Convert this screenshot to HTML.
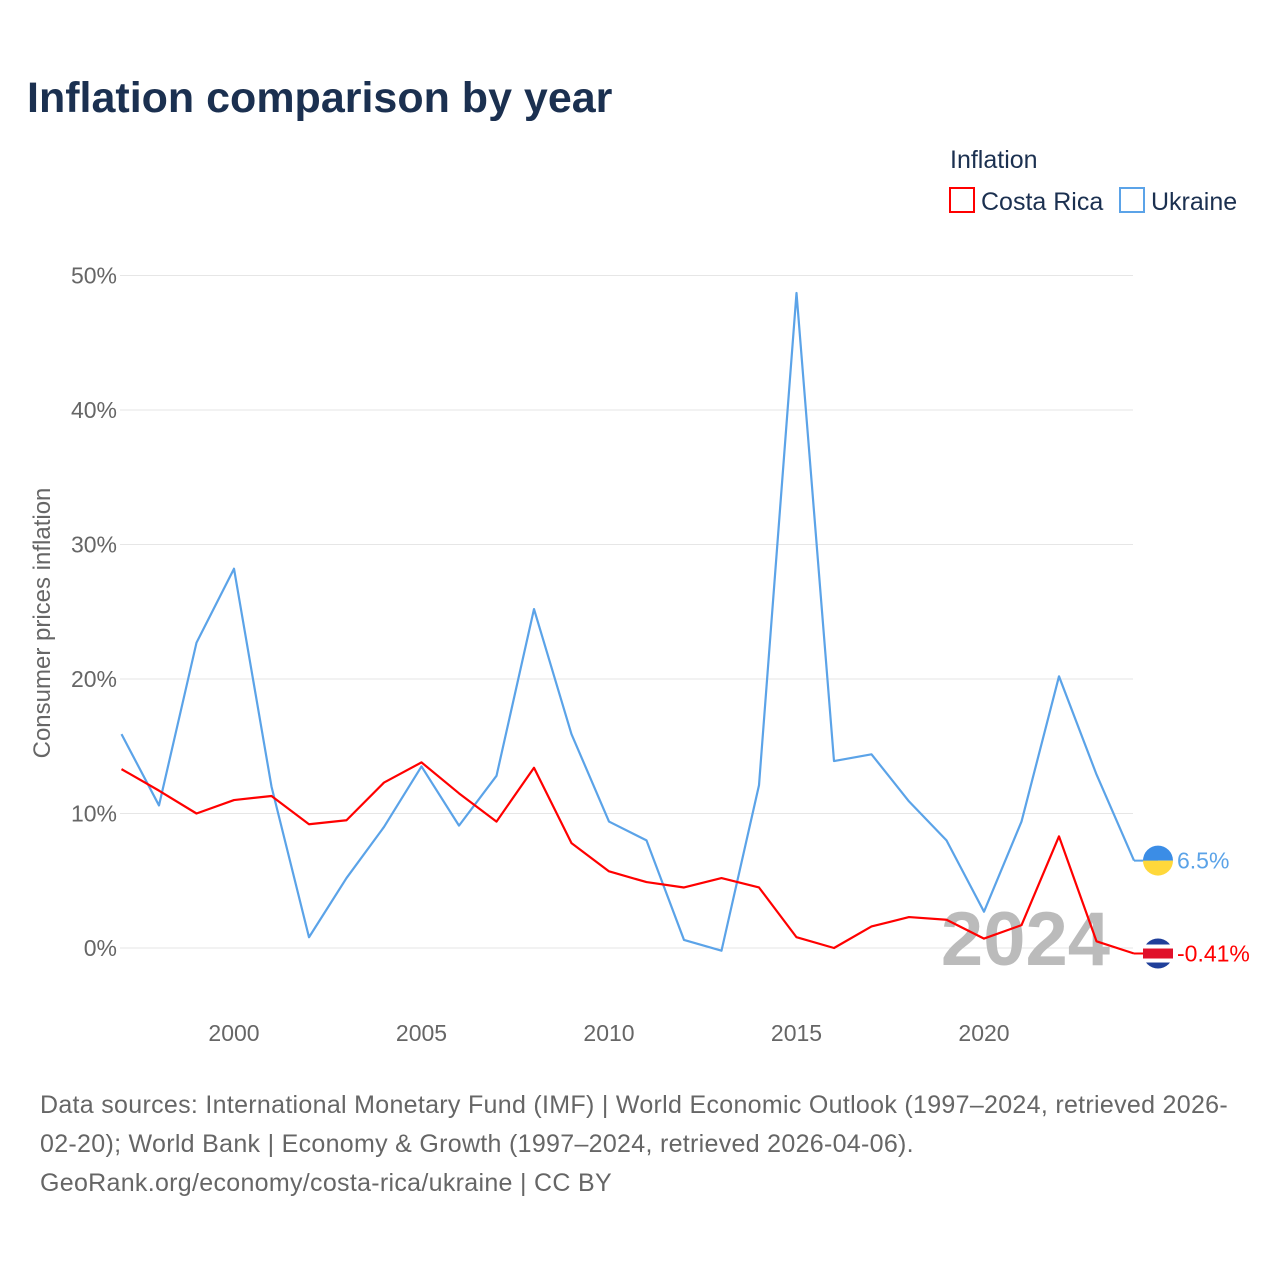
<!DOCTYPE html>
<html><head><meta charset="utf-8"><style>
body{margin:0;background:#fff;font-family:"Liberation Sans",sans-serif;}
svg text{font-family:"Liberation Sans",sans-serif;}
</style></head><body>
<svg id="chart" width="1280" height="1280" xmlns="http://www.w3.org/2000/svg">
<rect width="1280" height="1280" fill="#fff"/>
<text x="27" y="112" font-size="43" font-weight="bold" fill="#1b3050">Inflation comparison by year</text>
<text x="950" y="168" font-size="25" fill="#1b3050">Inflation</text>
<g><rect x="950" y="188" width="24" height="24" fill="none" stroke="#ff0000" stroke-width="2"/><text x="981" y="210" font-size="25" fill="#1b3050">Costa Rica</text></g>
<g><rect x="1120" y="188" width="24" height="24" fill="none" stroke="#5ba3e8" stroke-width="2"/><text x="1151" y="210" font-size="25" fill="#1b3050">Ukraine</text></g>
<text transform="translate(50,623) rotate(-90)" text-anchor="middle" font-size="24" fill="#666">Consumer prices inflation</text>
<g id="grid"></g><g id="xticks"></g>
<text x="1110" y="965" text-anchor="end" font-size="76" font-weight="bold" fill="#bbb">2024</text>
<g id="lines"></g>
<text font-size="25" letter-spacing="0.3" fill="#666"><tspan x="40" y="1113">Data sources: International Monetary Fund (IMF) | World Economic Outlook (1997–2024, retrieved 2026-</tspan><tspan x="40" y="1152">02-20); World Bank | Economy &amp; Growth (1997–2024, retrieved 2026-04-06).</tspan><tspan x="40" y="1191">GeoRank.org/economy/costa-rica/ukraine | CC BY</tspan></text>
</svg>
<script>
const years=[1997,1998,1999,2000,2001,2002,2003,2004,2005,2006,2007,2008,2009,2010,2011,2012,2013,2014,2015,2016,2017,2018,2019,2020,2021,2022,2023,2024];
const ukraine=[15.9,10.6,22.7,28.2,12.0,0.8,5.2,9.0,13.5,9.1,12.8,25.2,15.9,9.4,8.0,0.6,-0.2,12.1,48.7,13.9,14.4,10.9,8.0,2.7,9.4,20.2,12.9,6.5];
const costaRica=[13.3,11.7,10.0,11.0,11.3,9.2,9.5,12.3,13.8,11.5,9.4,13.4,7.8,5.7,4.9,4.5,5.2,4.5,0.8,0.0,1.6,2.3,2.1,0.7,1.7,8.3,0.5,-0.41];
const yTicks=[0,10,20,30,40,50];
const xTicks=[2000,2005,2010,2015,2020];
const NS="http://www.w3.org/2000/svg";
const x=v=>121.5+(v-1997)*(1134-121.5)/27;
const y=v=>948-v*13.45;
function mk(tag,attrs,parent,text){const e=document.createElementNS(NS,tag);for(const k in attrs)e.setAttribute(k,attrs[k]);if(text!=null)e.textContent=text;parent.appendChild(e);return e;}
const grid=document.getElementById('grid');
yTicks.forEach(t=>{
 const l=mk('line',{x1:120,x2:1133,y1:y(t),y2:y(t),stroke:'#e6e6e6','stroke-width':1},grid);
 
 
 const tx=mk('text',{x:117,y:y(t)+8,'text-anchor':'end','font-size':23,fill:'#666'},grid,t+'%');
 
 
});
const xt=document.getElementById('xticks');
xTicks.forEach(t=>{
 const tx=mk('text',{x:x(t),y:1041,'text-anchor':'middle','font-size':23,fill:'#666'},xt,t);
 
 
});
const lines=document.getElementById('lines');
function series(vals,color,name,label,flag){
 const p=mk('polyline',{points:vals.map((v,i)=>x(years[i])+','+y(v)).join(' '),fill:'none',stroke:color,'stroke-width':2.2,'stroke-linejoin':'round'},lines);
 
 
 const last=vals[vals.length-1],cy=y(last),cx=1158;
 const g=mk('g',{},lines);
 
 
 mk('line',{x1:x(years[years.length-1]),x2:cx,y1:cy,y2:cy,stroke:color,'stroke-width':2},g);
 flag(g,cx,cy);
 const t=mk('text',{x:1177,y:cy+8,'font-size':23,fill:color},g,label);
 
 
}
series(ukraine,'#5ba3e8','ukraine','6.5%',(g,cx,cy)=>{
 mk('path',{d:`M${cx-15},${cy} A15,15 0 0 1 ${cx+15},${cy} Z`,fill:'#3b8de6'},g);
 mk('path',{d:`M${cx-15},${cy} A15,15 0 0 0 ${cx+15},${cy} Z`,fill:'#ffd83a'},g);
});
series(costaRica,'#ff0000','costa-rica','-0.41%',(g,cx,cy)=>{
 mk('circle',{cx:cx,cy:cy,r:15,fill:'#1f3f9a'},g);
 mk('rect',{x:cx-15,y:cy-9,width:30,height:18,fill:'#fff'},g);
 mk('rect',{x:cx-15,y:cy-5,width:30,height:10,fill:'#e0102a'},g);
});
</script>
</body></html>
